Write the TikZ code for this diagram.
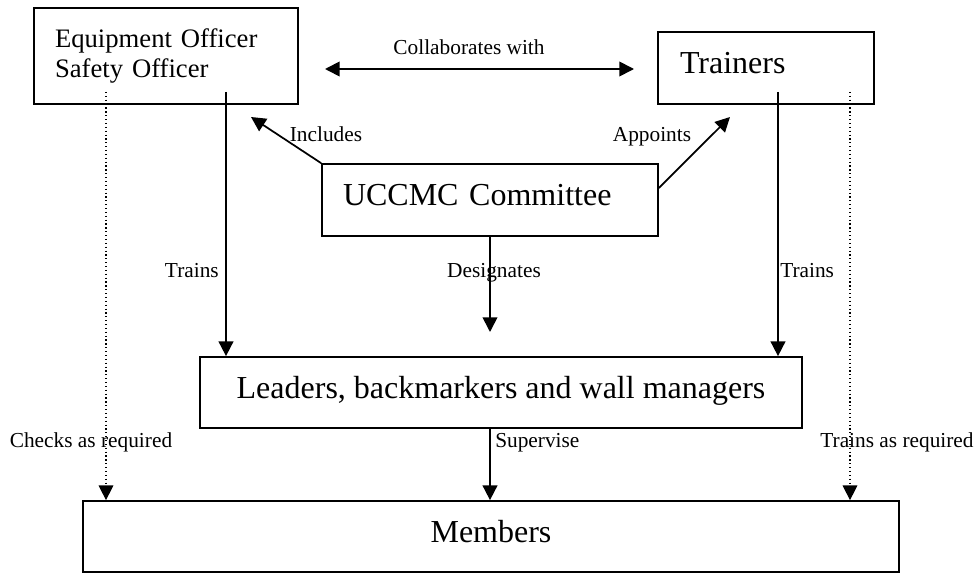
\documentclass[tikz,border=0pt]{standalone}
\usepackage{fontspec}
\setmainfont{Liberation Serif}
\usetikzlibrary{arrows.meta}
\tikzstyle{orgbox} = [draw=black,line width=1.3pt,inner ysep=0pt,font=\fontsize{24}{28}\selectfont]
\tikzstyle{oneline} = [text height=16pt,text depth=7pt]
\tikzstyle{link} = [line width=1.3pt,-{Triangle[length=11pt,width=11pt]}]
\tikzstyle{twoway} = [line width=1.3pt,{Triangle[length=11pt,width=11pt]}-{Triangle[length=11pt,width=11pt]}]
\tikzstyle{checklink} = [line width=0.9pt,dotted,-{Triangle[length=11pt,width=11pt]}]
\tikzstyle{lbl} = [inner sep=0pt,font=\fontsize{16}{19}\selectfont]

\begin{document}
\begin{tikzpicture}[x=0.75pt,y=-0.75pt]
  \useasboundingbox (0,0) rectangle (975,574);

  \node[orgbox,minimum width=198pt,minimum height=72pt,inner xsep=15.75pt,
    text width=166.5pt,align=left,font=\fontsize{20}{22.5}\selectfont] (safety) at (166,56)
    {Equipment Officer\\Safety Officer};
  \node[orgbox,oneline,minimum width=162pt,minimum height=54pt,inner xsep=16.5pt,
    text width=129pt,align=left] (trainers) at (766,68) {Trainers};
  \node[orgbox,oneline,minimum width=252pt,minimum height=54pt,inner xsep=15.75pt,
    text width=220.5pt,align=left] (committee) at (490,200) {UCCMC Committee};
  \node[orgbox,oneline,minimum width=451.5pt,minimum height=53.25pt] (leaders) at (501,392.5)
    {Leaders, backmarkers and wall managers};
  \node[orgbox,oneline,minimum width=612pt,minimum height=53.25pt] (members) at (491,536.5) {Members};

  \coordinate (collabL) at (325,69);
  \coordinate (collabR) at (634,69);
  \coordinate (includesTip) at (251,117);
  \coordinate (appointsTip) at (730,117);
  \coordinate (designatesTip) at (490,332);
  \coordinate (safetyCheck) at (106,92);
  \coordinate (safetyTrain) at (226,92);
  \coordinate (trainersTrain) at (778,92);
  \coordinate (trainersCheck) at (850,92);

  \draw[twoway] (collabL) -- (collabR);
  \node[lbl,anchor=base] (collabLbl) at (469,55) {Collaborates with};

  \draw[link] (committee.north west) -- (includesTip);
  \node[lbl,anchor=base] (includesLbl) at (326,142) {Includes};
  \draw[link] ([yshift=9pt]committee.east) -- (appointsTip);
  \node[lbl,anchor=base] (appointsLbl) at (652,142) {Appoints};

  \draw[link] (safetyTrain) -- (leaders.north -| safetyTrain);
  \node[lbl,anchor=base east] (trainsL) at (219,277) {Trains};
  \draw[link] (committee.south) -- (designatesTip);
  \node[lbl,anchor=base] (designatesLbl) at (494,277) {Designates};
  \draw[link] (trainersTrain) -- (leaders.north -| trainersTrain);
  \node[lbl,anchor=base west] (trainsR) at (780,277) {Trains};

  \draw[link] (leaders.south -| designatesTip) -- (members.north -| designatesTip);
  \node[lbl,anchor=base west] (superviseLbl) at (495,447) {Supervise};

  \draw[checklink] (safetyCheck) -- (members.north -| safetyCheck);
  \node[lbl,anchor=base] (checksLbl) at (91,447) {Checks as required};
  \draw[checklink] (trainersCheck) -- (members.north -| trainersCheck);
  \node[lbl,anchor=base] (trainsReqLbl) at (897,447) {Trains as required};
\end{tikzpicture}
\end{document}
